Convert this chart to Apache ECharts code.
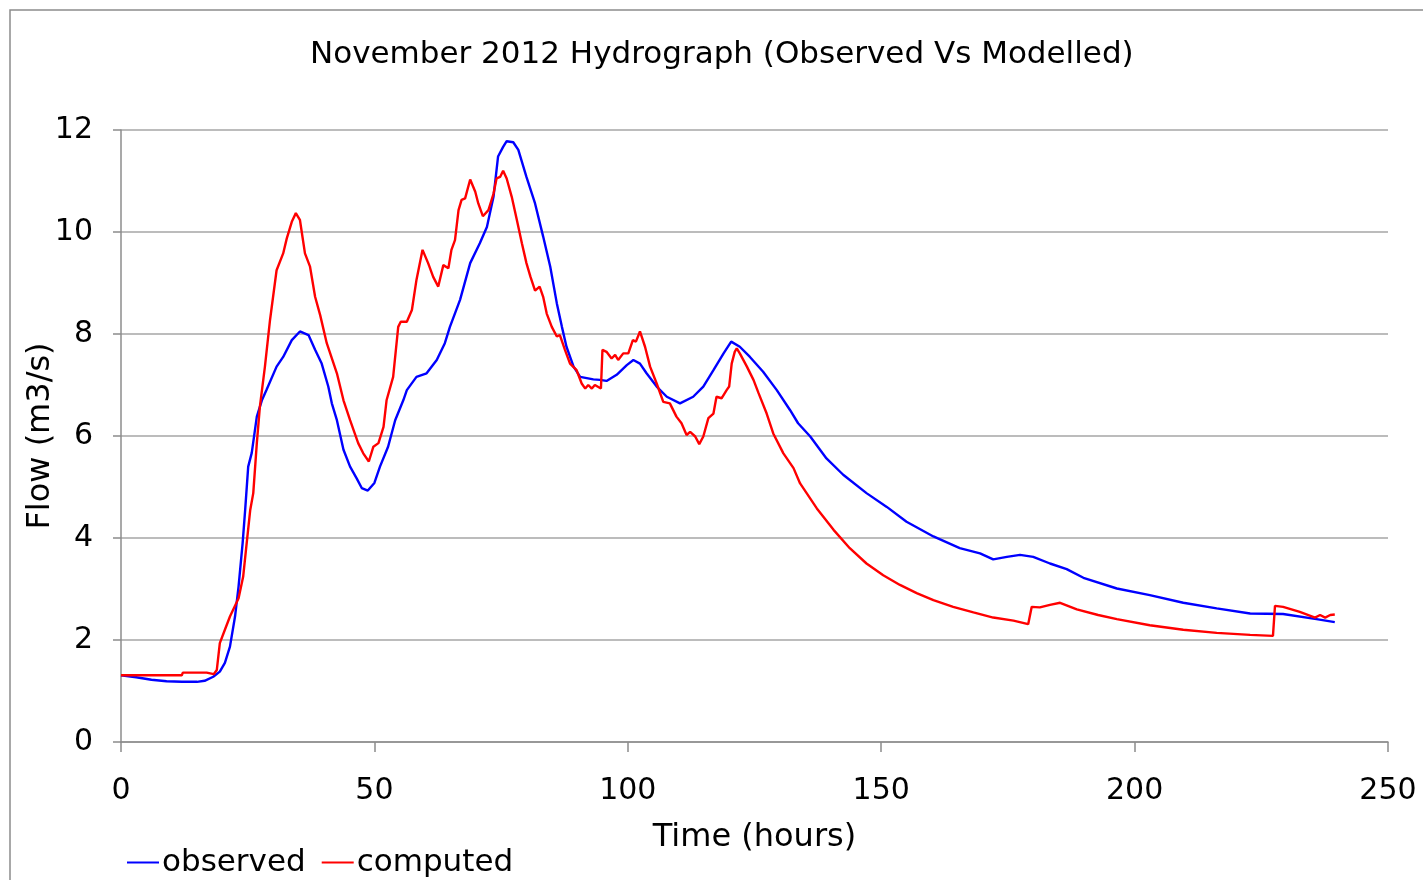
<!DOCTYPE html>
<html>
<head>
<meta charset="utf-8">
<script src="https://cdn.jsdelivr.net/npm/echarts@6/dist/echarts.min.js"></script>
<style>
  html, body { margin: 0; padding: 0; background: #fff; }
  #chart-container { width: 1423px; height: 880px; }
</style>
</head>
<body>
<div id="chart-container"></div>
<script>
// 观测流量 (observed), 时间单位: 小时
var obsTime = [0, 3, 6, 9, 12, 15, 16.5, 18.2, 19.5, 20.5, 21.5, 22.5, 23.2, 24.0, 24.5, 25.1, 25.8, 26.8, 27.8, 28.7,
  30.7, 32.0, 33.7, 35.3, 37.0, 38.3, 39.6, 40.9, 41.6, 42.6, 43.9, 45.2, 46.5, 47.5, 48.7, 50.0, 51.1, 52.7, 54.1, 55.7,
  56.4, 58.3, 60.3, 62.3, 63.9, 64.9, 66.9, 68.9, 70.8, 72.2, 73.5, 74.4, 75.4, 76.1, 77.4, 78.4, 80.0, 81.7, 83.3, 84.7,
  86.0, 87.0, 87.9, 89.3, 90.6, 93.2, 94.5, 95.8, 97.8, 99.8, 101.1, 102.4, 103.7, 105.7, 107.7, 110.3, 112.9, 114.9, 116.9, 118.9,
  120.4, 122.1, 124.1, 126.7, 129.4, 132, 133.6, 136, 139.2, 142.5, 147.1, 151.1, 155, 160.3, 165.5, 169.5, 172.1, 174.8, 177.4, 180,
  183.3, 186.6, 189.9, 196.5, 203, 209.6, 216.2, 222.8, 229.3, 235.9, 239.5];
var obsFlow = [1.31, 1.27, 1.22, 1.19, 1.18, 1.18, 1.20, 1.28, 1.38, 1.55, 1.87, 2.46, 3.05, 3.9, 4.55, 5.4, 5.67, 6.38, 6.7, 6.9,
  7.36, 7.55, 7.88, 8.05, 7.98, 7.69, 7.42, 6.97, 6.64, 6.31, 5.73, 5.4, 5.17, 4.98, 4.93, 5.08, 5.4, 5.79, 6.31, 6.7,
  6.9, 7.16, 7.23, 7.49, 7.82, 8.14, 8.67, 9.39, 9.78, 10.1, 10.69, 11.48, 11.67, 11.78, 11.76, 11.61, 11.08, 10.56, 9.91, 9.32,
  8.6, 8.14, 7.75, 7.36, 7.16, 7.11, 7.10, 7.08, 7.2, 7.39, 7.49, 7.42, 7.23, 6.97, 6.77, 6.64, 6.77, 6.97, 7.29, 7.62,
  7.85, 7.75, 7.55, 7.26, 6.9, 6.51, 6.25, 5.99, 5.56, 5.24, 4.88, 4.61, 4.32, 4.03, 3.8, 3.7, 3.58, 3.63, 3.67, 3.63,
  3.5, 3.39, 3.22, 3.01, 2.88, 2.73, 2.62, 2.52, 2.51, 2.41, 2.35];

// 模型计算流量 (computed)
var compTime = [0, 12, 12.2, 16.9, 18.3, 18.9, 19.5, 20.5, 21.5, 23.2, 24.1, 24.8, 25.5, 26.1, 26.8, 27.4, 28.4, 29.4, 30.7, 32.0,
  32.7, 33.7, 34.5, 35.3, 36.3, 37.3, 38.3, 39.3, 40.6, 42.6, 43.9, 45.2, 46.8, 47.8, 48.9, 49.8, 50.8, 51.8, 52.4, 53.7,
  54.7, 55.2, 56.4, 57.4, 58.3, 59.5, 60.6, 61.6, 62.6, 63.6, 64.6, 65.2, 65.9, 66.6, 67.2, 67.9, 68.9, 69.9, 70.5, 71.4,
  72.5, 73.5, 74.1, 74.8, 75.4, 76.1, 77.1, 78.1, 79.1, 80.0, 80.8, 81.7, 82.6, 83.3, 84.0, 85.0, 86.0, 86.6, 87.6, 88.6,
  89.9, 90.9, 91.6, 92.2, 92.9, 93.5, 94.7, 95.0, 95.8, 96.8, 97.5, 98.1, 99.1, 100.1, 101.0, 101.6, 102.4, 103.4, 104.4, 105.7,
  107.0, 108.3, 109.6, 110.6, 111.6, 112.3, 113.3, 114.1, 114.9, 115.9, 116.9, 117.5, 118.5, 119.5, 120.0, 120.5, 121.1, 121.5, 122.1, 123.5,
  124.8, 125.8, 127.4, 128.7, 130.7, 132.7, 134, 137.3, 140.6, 143.8, 147.1, 150.4, 153.7, 157, 160.3, 164.2, 168.2, 172.1, 176.1, 179.0,
  179.7, 181.3, 183.3, 185.3, 188.6, 192.8, 196.5, 203, 209.6, 216.2, 222.8, 227.3, 227.7, 229.3, 232.6, 235.6, 236.6, 237.6, 238.6, 239.5];
var compFlow = [1.31, 1.31, 1.36, 1.36, 1.33, 1.41, 1.94, 2.2, 2.46, 2.82, 3.24, 3.9, 4.55, 4.88, 5.86, 6.57, 7.36, 8.27, 9.25, 9.58,
  9.87, 10.2, 10.37, 10.24, 9.58, 9.32, 8.73, 8.37, 7.82, 7.23, 6.7, 6.31, 5.86, 5.66, 5.5, 5.79, 5.86, 6.18, 6.7, 7.16,
  8.14, 8.24, 8.24, 8.47, 9.06, 9.65, 9.39, 9.12, 8.93, 9.35, 9.29, 9.65, 9.84, 10.43, 10.63, 10.66, 11.03, 10.79, 10.56, 10.31,
  10.43, 10.75, 11.05, 11.08, 11.2, 11.05, 10.69, 10.24, 9.78, 9.39, 9.12, 8.85, 8.93, 8.73, 8.4, 8.14, 7.95, 7.98, 7.69, 7.42,
  7.29, 7.03, 6.93, 7.0, 6.93, 7.0, 6.93, 7.69, 7.65, 7.52, 7.59, 7.49, 7.62, 7.62, 7.88, 7.85, 8.05, 7.75, 7.36, 7.03,
  6.67, 6.64, 6.38, 6.25, 6.02, 6.08, 5.99, 5.84, 5.99, 6.35, 6.44, 6.77, 6.74, 6.9, 6.97, 7.42, 7.65, 7.72, 7.62, 7.36,
  7.1, 6.84, 6.44, 6.05, 5.66, 5.37, 5.07, 4.58, 4.16, 3.8, 3.5, 3.27, 3.08, 2.92, 2.78, 2.65, 2.54, 2.44, 2.38, 2.31,
  2.65, 2.64, 2.69, 2.73, 2.6, 2.49, 2.41, 2.29, 2.2, 2.14, 2.1, 2.08, 2.67, 2.65, 2.55, 2.44, 2.49, 2.44, 2.49, 2.5];

function pairs(ts, vs) {
  return ts.map(function (t, i) { return [t, vs[i]]; });
}

var container = document.getElementById('chart-container');
var myChart = echarts.init(container);
var font = 'DejaVu Sans, Verdana, sans-serif';

myChart.setOption({
  animation: false,
  textStyle: { fontFamily: font, color: '#000' },
  title: {
    text: 'November 2012 Hydrograph (Observed Vs Modelled)',
    left: 305,
    top: 34,
    textStyle: { fontFamily: font, fontSize: 31, fontWeight: 'normal', color: '#000' }
  },
  graphic: [{
    type: 'rect',
    shape: { x: 10, y: 10, width: 1500, height: 1000 },
    style: { fill: 'none', stroke: '#8c8c8c', lineWidth: 1.5 },
    silent: true
  }],
  legend: {
    left: 122,
    top: 842,
    itemWidth: 32,
    itemHeight: 2,
    itemGap: 16,
    icon: 'rect',
    textStyle: { fontFamily: font, fontSize: 31, color: '#000', padding: [0, 0, 0, -2] },
    data: ['observed', 'computed']
  },
  grid: { left: 121, right: 35, top: 130, bottom: 138 },
  xAxis: {
    type: 'value',
    min: 0,
    max: 250,
    interval: 50,
    name: 'Time (hours)',
    nameLocation: 'middle',
    nameGap: 80,
    nameMoveOverlap: false,
    nameTextStyle: { fontFamily: font, fontSize: 32, color: '#000' },
    axisLine: { show: true, lineStyle: { color: '#8c8c8c', width: 1.5 } },
    axisTick: { show: true, length: 10, lineStyle: { color: '#8c8c8c', width: 1.5 } },
    axisLabel: { margin: 34, fontSize: 30, color: '#000', fontFamily: font },
    splitLine: { show: false }
  },
  yAxis: {
    type: 'value',
    min: 0,
    max: 12,
    interval: 2,
    name: 'Flow (m3/s)',
    nameLocation: 'middle',
    nameGap: 64,
    nameMoveOverlap: false,
    nameTextStyle: { fontFamily: font, fontSize: 32, color: '#000' },
    axisLine: { show: true, lineStyle: { color: '#8c8c8c', width: 1.5 } },
    axisTick: { show: true, length: 8, lineStyle: { color: '#8c8c8c', width: 1.5 } },
    axisLabel: { margin: 28, fontSize: 30, color: '#000', fontFamily: font },
    splitLine: { show: true, lineStyle: { color: '#a6a6a6', width: 1.5 } }
  },
  series: [
    {
      name: 'observed',
      type: 'line',
      showSymbol: false,
      color: '#0000ff',
      lineStyle: { width: 2.4, color: '#0000ff' },
      data: pairs(obsTime, obsFlow)
    },
    {
      name: 'computed',
      type: 'line',
      showSymbol: false,
      color: '#ff0000',
      lineStyle: { width: 2.4, color: '#ff0000' },
      data: pairs(compTime, compFlow)
    }
  ]
});
</script>
</body>
</html>
